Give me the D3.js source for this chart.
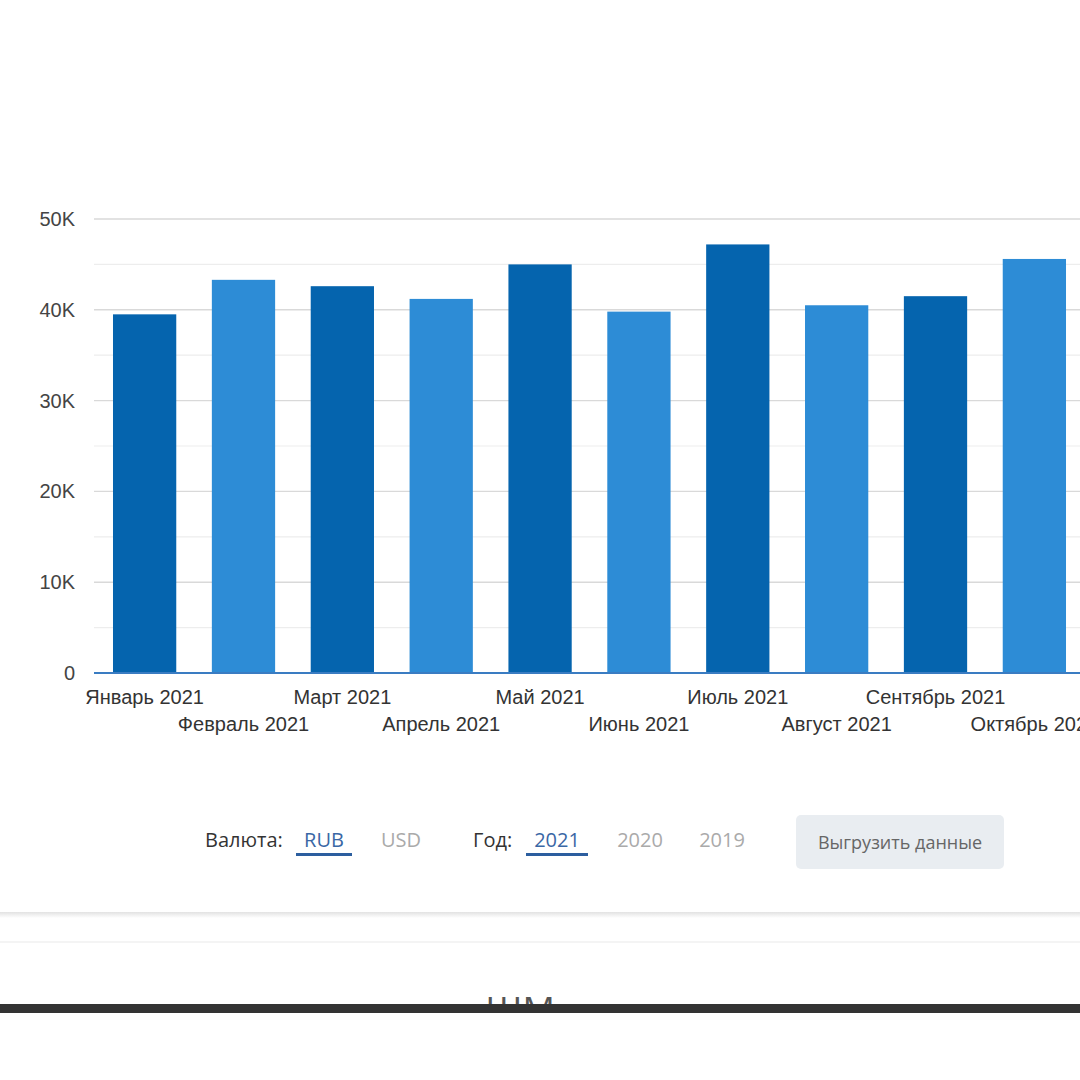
<!DOCTYPE html>
<html>
<head>
<meta charset="utf-8">
<script src="https://cdn.jsdelivr.net/npm/d3@7"></script>
<style>
    body { margin: 0; background: #fff; }
    svg { display: block; }
    .tickLabel text { font-family: "Liberation Sans", Arial, sans-serif; font-size: 20px; fill: #333; }
    .ctrl { font-family: "Open Sans", sans-serif; font-size: 20px; }
</style>
</head>
<body>
<svg></svg>
<script>
// monthly values, 2021 (RUB)
var months = ["Январь 2021", "Февраль 2021", "Март 2021", "Апрель 2021", "Май 2021",
    "Июнь 2021", "Июль 2021", "Август 2021", "Сентябрь 2021", "Октябрь 2021"];
var values = [39500, 43300, 42600, 41200, 45000, 39800, 47200, 40500, 41500, 45600];
var yTicks = [0, 10000, 20000, 30000, 40000, 50000];
var yTickLabels = ["0", "10K", "20K", "30K", "40K", "50K"];

var currencies = ["RUB", "USD"];
var years = ["2021", "2020", "2019"];

function drawChart() {
    var svgWidth = 1080,
        svgHeight = 1080;
    var svg = d3.select("svg")
        .attr("width", svgWidth)
        .attr("height", svgHeight);

    var data = months.map(function (m, i) {
        return { month: m, value: values[i], idx: i };
    });

    // scales
    var x = d3.scaleBand()
        .domain(months)
        .range([95, 1084])
        .paddingInner(0.36)
        .paddingOuter(0.182);
    var y = d3.scaleLinear()
        .domain([0, 50000])
        .range([673, 219]);

    var g = svg.append("g");

    // minor grid (5K steps)
    g.append("g")
        .selectAll("line")
        .data(d3.range(5000, 50000, 10000))
        .enter()
        .append("line")
        .attr("x1", 94).attr("x2", 1080)
        .attr("y1", d => y(d)).attr("y2", d => y(d))
        .attr("stroke", "#ededed")
        .attr("stroke-width", 1.2);

    // major grid
    g.append("g")
        .selectAll("line")
        .data(yTicks.slice(1))
        .enter()
        .append("line")
        .attr("x1", 94).attr("x2", 1080)
        .attr("y1", d => y(d)).attr("y2", d => y(d))
        .attr("stroke", "#d9d9d9")
        .attr("stroke-width", 1.4);

    // y axis labels
    var yAxis = g.append("g")
        .attr("class", "tickLabel")
        .attr("transform", "translate(75,0)")
        .call(d3.axisLeft(y)
            .tickValues(yTicks)
            .tickSize(0)
            .tickPadding(0)
            .tickFormat((d, i) => yTickLabels[i]));
    yAxis.select(".domain").remove();
    yAxis.selectAll("text").style("fill", "#444");

    // bars
    g.append("g")
        .selectAll("rect")
        .data(data)
        .enter()
        .append("rect")
        .attr("x", d => x(d.month))
        .attr("width", x.bandwidth())
        .attr("y", d => y(d.value))
        .attr("height", d => y(0) - y(d.value))
        .attr("fill", d => d.idx % 2 === 0 ? "#0564ae" : "#2d8cd6");

    // x axis, labels staggered on two rows
    var xAxis = g.append("g")
        .attr("class", "tickLabel")
        .attr("transform", "translate(0," + y(0) + ")")
        .call(d3.axisBottom(x).tickSize(0).tickPadding(0));
    xAxis.select(".domain").remove();
    xAxis.selectAll("text")
        .attr("dy", null)
        .attr("y", (d, i) => i % 2 === 0 ? 31 : 58);

    g.append("line")
        .attr("x1", 94).attr("x2", 1080)
        .attr("y1", y(0)).attr("y2", y(0))
        .attr("stroke", "#3a7cc2")
        .attr("stroke-width", 2);

    // controls row
    var c = svg.append("g").attr("class", "ctrl");
    c.append("text").attr("x", 205).attr("y", 847).attr("fill", "#333").text("Валюта:");
    c.selectAll(".cur")
        .data(currencies)
        .enter()
        .append("text")
        .attr("class", "cur")
        .attr("x", (d, i) => [324, 401][i])
        .attr("y", 847)
        .attr("text-anchor", "middle")
        .attr("fill", (d, i) => i === 0 ? "#3a67a5" : "#aaaaaa")
        .text(d => d);
    c.append("rect").attr("x", 296).attr("y", 853).attr("width", 56).attr("height", 3).attr("fill", "#2c5e9f");

    c.append("text").attr("x", 473).attr("y", 847).attr("fill", "#333").text("Год:");
    c.selectAll(".yr")
        .data(years)
        .enter()
        .append("text")
        .attr("class", "yr")
        .attr("x", (d, i) => [557, 640, 722][i])
        .attr("y", 847)
        .attr("text-anchor", "middle")
        .attr("fill", (d, i) => i === 0 ? "#3a67a5" : "#aaaaaa")
        .text(d => d);
    c.append("rect").attr("x", 526).attr("y", 853).attr("width", 62).attr("height", 3).attr("fill", "#2c5e9f");

    c.append("rect")
        .attr("x", 796).attr("y", 815)
        .attr("width", 208).attr("height", 54)
        .attr("rx", 5)
        .attr("fill", "#e9edf1");
    c.append("text")
        .attr("x", 900).attr("y", 849)
        .attr("text-anchor", "middle")
        .attr("fill", "#666")
        .style("font-size", "18px")
        .text("Выгрузить данные");

    // page separators below the chart
    var defs = svg.append("defs");
    var grad = defs.append("linearGradient")
        .attr("id", "sep").attr("x1", 0).attr("x2", 0).attr("y1", 0).attr("y2", 1);
    grad.append("stop").attr("offset", "0%").attr("stop-color", "#e2e2e2");
    grad.append("stop").attr("offset", "100%").attr("stop-color", "#ffffff");
    svg.append("rect").attr("x", 0).attr("y", 912).attr("width", 1080).attr("height", 6).attr("fill", "url(#sep)");
    svg.append("rect").attr("x", 0).attr("y", 941).attr("width", 1080).attr("height", 2).attr("fill", "#f4f4f4");

    // clipped heading peeking above the dark bar
    defs.append("clipPath").attr("id", "peek")
        .append("rect").attr("x", 0).attr("y", 997).attr("width", 1080).attr("height", 8);
    svg.append("text")
        .attr("clip-path", "url(#peek)")
        .attr("x", 520).attr("y", 1023)
        .attr("text-anchor", "middle")
        .attr("fill", "#555")
        .style("font-family", "Open Sans, sans-serif")
        .style("font-size", "36px")
        .text("ШМ");

    svg.append("rect").attr("x", 0).attr("y", 1004).attr("width", 1080).attr("height", 9).attr("fill", "#333");
}

drawChart();
</script>
</body>
</html>
